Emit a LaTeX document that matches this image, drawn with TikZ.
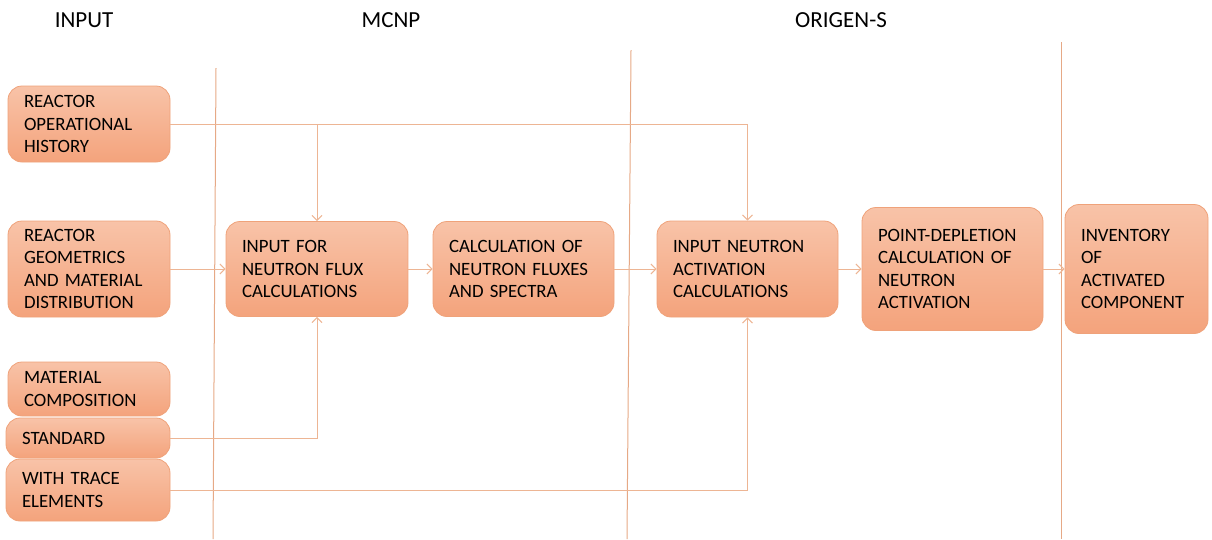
\documentclass[tikz,border=0pt]{standalone}
\usepackage{fontspec}
\setmainfont{Carlito}
\usetikzlibrary{arrows.meta}
\definecolor{boxtop}{HTML}{F8C3A8}
\definecolor{boxbot}{HTML}{F4A37C}
\definecolor{boxline}{HTML}{EFA27A}
\definecolor{linkcol}{HTML}{EDB594}
\definecolor{sepcol}{HTML}{E6A986}
\begin{document}
\begin{tikzpicture}[x=1pt,y=-1pt,
  blok/.style={draw=boxline,line width=0.8pt,rounded corners=14pt,top color=boxtop,bottom color=boxbot,align=left,inner xsep=16pt,inner ysep=0pt,font=\fontsize{18.8}{22.5}\selectfont},
  lnk/.style={draw=linkcol,line width=1pt,-{Straight Barb[length=5pt,width=10pt]}},
  sep/.style={draw=sepcol,line width=1pt},
  ttl/.style={anchor=base,font=\fontsize{23}{27}\selectfont}]
\useasboundingbox (0,0) rectangle (1212,539);
\node[ttl] (tinput) at (84,27) {INPUT}; \node[ttl] (tmcnp) at (391,27) {MCNP}; \node[ttl] (torigen) at (841,27) {ORIGEN-S};
\draw[sep] (216,68) -- (213,539); \draw[sep] (631,50) -- (627,539); \draw[sep] (1061,42) -- (1061,539);
\foreach \nm/\cx/\cy/\w/\h/\txt in {
  hist/89/124/162/76/{REACTOR\\OPERATIONAL\\HISTORY},
  geom/89/269/162/96/{REACTOR\\GEOMETRICS\\AND MATERIAL\\DISTRIBUTION},
  matc/89/389/162/54/{MATERIAL\\COMPOSITION},
  std/88/438/164/40/{STANDARD},
  trace/88/490/164/62/{WITH TRACE\\ELEMENTS},
  influx/317/269/182/95/{INPUT FOR\\NEUTRON FLUX\\CALCULATIONS},
  calc/523.5/269/181/95/{CALCULATION OF\\NEUTRON FLUXES\\AND SPECTRA},
  inact/747.5/269/181/96/{INPUT NEUTRON\\ACTIVATION\\CALCULATIONS},
  depl/952.5/269/181/123/{POINT-DEPLETION\\CALCULATION OF\\NEUTRON\\ACTIVATION},
  inv/1136.5/269/143/129/{INVENTORY\\OF\\ACTIVATED\\COMPONENT}}
  { \pgfmathsetmacro\tw{\w-32}
    \node[blok,minimum width=\w pt,minimum height=\h pt,text width=\tw pt] (\nm) at (\cx,\cy) {\txt}; }
\draw[lnk] (hist.east) -| (inact.north); \draw[lnk] (hist.east -| influx.north) -- (influx.north);
\draw[lnk] (geom.east) -- (influx.west); \draw[lnk] (influx.east) -- (calc.west); \draw[lnk] (calc.east) -- (inact.west);
\draw[lnk] (inact.east) -- (depl.west); \draw[lnk] (depl.east) -- (inv.west);
\draw[lnk] (std.east) -| (influx.south); \draw[lnk] (trace.east) -| (inact.south);
\end{tikzpicture}
\end{document}
